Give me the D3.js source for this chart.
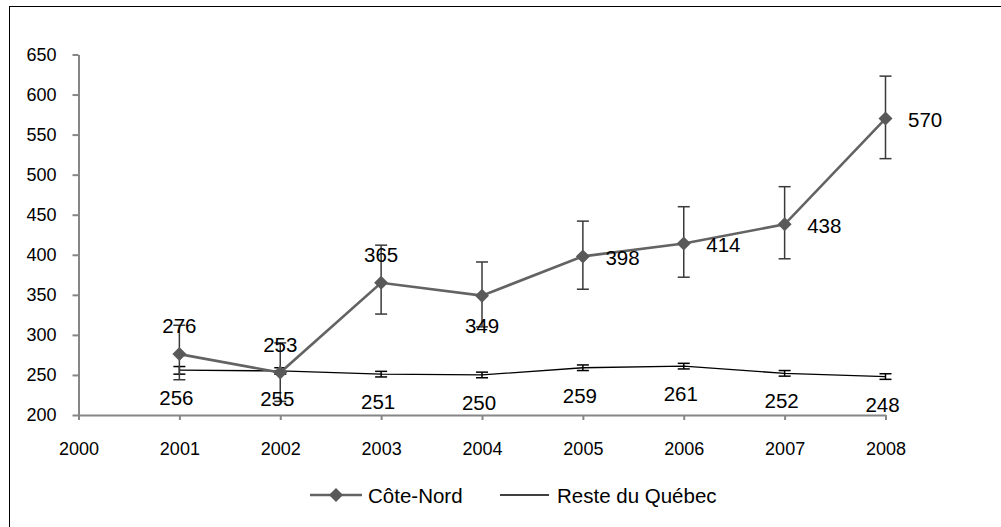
<!DOCTYPE html>
<html>
<head>
<meta charset="utf-8">
<script src="https://cdn.jsdelivr.net/npm/d3@7"></script>
<style>
    body { margin: 0; background: #fff; }
    svg { display: block; font-family: "Liberation Sans", Arial, sans-serif; }
</style>
</head>
<body>
<div id="chart"></div>
<script>
// data
var years = [2001, 2002, 2003, 2004, 2005, 2006, 2007, 2008];
var coteNord = [276, 253, 365, 349, 398, 414, 438, 570];
var coteNordLow = [244, 217, 326, 310, 357, 372, 395, 520];
var coteNordHigh = [312, 290, 412, 391, 442, 460, 485, 623];
var coteNordLabelPos = ["top", "top", "top", "bottom", "right", "right", "right", "right"];
var reste = [256, 255, 251, 250, 259, 261, 252, 248];
var resteLow = [251, 251, 247.5, 246.5, 255.5, 257.5, 248.5, 244.5];
var resteHigh = [260.5, 259, 254.5, 253.5, 262.5, 264.5, 255.5, 251.5];
var yTicks = [200, 250, 300, 350, 400, 450, 500, 550, 600, 650];
var xTicks = [2000, 2001, 2002, 2003, 2004, 2005, 2006, 2007, 2008];
var seriesNames = ["Côte-Nord", "Reste du Québec"];

var width = 1001, height = 527;

var svg = d3.select("#chart").append("svg")
    .attr("width", width)
    .attr("height", height);

// outer frame (right and bottom edges are outside the picture)
svg.append("rect")
    .attr("x", 9.5).attr("y", 6.5)
    .attr("width", 1100).attr("height", 600)
    .attr("fill", "none")
    .attr("stroke", "#000")
    .attr("stroke-width", 1);

var x = d3.scaleLinear().domain([2000, 2008]).range([78.5, 885.5]);
var y = d3.scaleLinear().domain([200, 650]).range([415, 54.5]);

var xAxis = d3.axisBottom(x)
    .tickValues(xTicks)
    .tickFormat(d3.format("d"))
    .tickSizeInner(5).tickSizeOuter(0)
    .tickPadding(22);
var yAxis = d3.axisLeft(y)
    .tickValues(yTicks)
    .tickSizeInner(6).tickSizeOuter(0)
    .tickPadding(16);

var gx = svg.append("g").attr("transform", "translate(0," + y(200) + ")").call(xAxis);
var gy = svg.append("g").attr("transform", "translate(" + x(2000) + ",0)").call(yAxis);

[gx, gy].forEach(function (g) {
    g.selectAll("path, line").attr("stroke", "#868686").attr("stroke-width", 2);
    g.selectAll("text").attr("fill", "#000").style("font-size", "18px")
        .style("font-family", "Liberation Sans, Arial, sans-serif");
});

// Reste du Québec
var line = d3.line()
    .x(function (d, i) { return x(years[i]); })
    .y(function (d) { return y(d); });

svg.append("path")
    .datum(reste)
    .attr("d", line)
    .attr("fill", "none")
    .attr("stroke", "#000")
    .attr("stroke-width", 1.3);

function errorBars(low, high, color, sw) {
    var g = svg.append("g").attr("stroke", color).attr("stroke-width", sw);
    years.forEach(function (yr, i) {
        var cx = x(yr);
        g.append("line").attr("x1", cx).attr("x2", cx)
            .attr("y1", y(low[i])).attr("y2", y(high[i]));
        g.append("line").attr("x1", cx - 6).attr("x2", cx + 6)
            .attr("y1", y(low[i])).attr("y2", y(low[i]));
        g.append("line").attr("x1", cx - 6).attr("x2", cx + 6)
            .attr("y1", y(high[i])).attr("y2", y(high[i]));
    });
}

errorBars(resteLow, resteHigh, "#000", 1.5);

// Côte-Nord
svg.append("path")
    .datum(coteNord)
    .attr("d", line)
    .attr("fill", "none")
    .attr("stroke", "#636363")
    .attr("stroke-width", 2.6);

errorBars(coteNordLow, coteNordHigh, "#3a3a3a", 1.5);

var diamond = d3.symbol().type(d3.symbolSquare).size(98);

svg.append("g").selectAll("path")
    .data(coteNord)
    .join("path")
    .attr("d", diamond)
    .attr("transform", function (d, i) {
        return "translate(" + x(years[i]) + "," + y(d) + ") rotate(45)";
    })
    .attr("fill", "#595959");

// data labels
svg.append("g").selectAll("text")
    .data(coteNord)
    .join("text")
    .attr("x", function (d, i) {
        var p = coteNordLabelPos[i];
        return p == "right" ? x(years[i]) + 22.5 : x(years[i]);
    })
    .attr("y", function (d, i) {
        var p = coteNordLabelPos[i];
        if (p == "top") return y(d) - 21;
        if (p == "bottom") return y(d) + 37;
        return y(d) + 8.5;
    })
    .attr("text-anchor", function (d, i) {
        return coteNordLabelPos[i] == "right" ? "start" : "middle";
    })
    .style("font-size", "20.5px")
    .text(function (d) { return d; });

svg.append("g").selectAll("text")
    .data(reste)
    .join("text")
    .attr("x", function (d, i) { return x(years[i]) - 3; })
    .attr("y", function (d) { return y(d) + 35; })
    .attr("text-anchor", "middle")
    .style("font-size", "20.5px")
    .text(function (d) { return d; });

// legend
var leg = svg.append("g").attr("transform", "translate(0,495)");
leg.append("line").attr("x1", 310).attr("x2", 362).attr("y1", 0).attr("y2", 0)
    .attr("stroke", "#636363").attr("stroke-width", 2.6);
leg.append("path").attr("d", diamond)
    .attr("transform", "translate(336,0) rotate(45)")
    .attr("fill", "#595959");
leg.append("text").attr("x", 368).attr("y", 7.5)
    .style("font-size", "20.5px").text(seriesNames[0]);
leg.append("line").attr("x1", 500).attr("x2", 549).attr("y1", 0).attr("y2", 0)
    .attr("stroke", "#000").attr("stroke-width", 1.3);
leg.append("text").attr("x", 557).attr("y", 7.5)
    .style("font-size", "20.5px").text(seriesNames[1]);
</script>
</body>
</html>
